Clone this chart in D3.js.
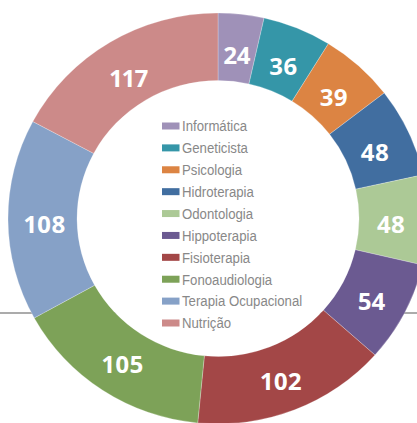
<!DOCTYPE html>
<html><head><meta charset="utf-8">
<script src="https://cdn.jsdelivr.net/npm/d3@7"></script>
<style>html,body{margin:0;padding:0;background:#fff;overflow:hidden}</style>
</head><body><svg id="c" width="417" height="423"></svg>
<script>
const categories = ["Informática","Geneticista","Psicologia","Hidroterapia","Odontologia","Hippoterapia","Fisioterapia","Fonoaudiologia","Terapia Ocupacional","Nutrição"];
const values = [24,36,39,48,48,54,102,105,108,117];
const colors = ["#9f91b8","#3596a8","#dc8443","#416ea0","#acc996","#6b5a91","#a34747","#7da258","#86a1c7","#cc8a89"];

const W = 417, H = 423;
const cx = 218, cy = 218.5, rOuter = 210, rInner = 141, yScale = 0.9786;
const svg = d3.select("#c");

svg.append("line").attr("x1", 0).attr("x2", W).attr("y1", 313).attr("y2", 313)
  .attr("stroke", "#ababab").attr("stroke-width", 2.2);

const pie = d3.pie().sort(null).value(d => d);
const arcs = pie(values);
const arc = d3.arc().innerRadius(rInner).outerRadius(rOuter);

const g = svg.append("g").attr("transform", `translate(${cx},${cy}) scale(1,${yScale})`);
g.append("circle").attr("r", rInner).attr("fill", "#fff");
g.selectAll("path").data(arcs).join("path")
  .attr("d", arc)
  .attr("fill", (d, i) => colors[i])
  .attr("stroke", "#fff").attr("stroke-width", 0.5).attr("stroke-opacity", 0.5);

const labelArc = d3.arc().innerRadius(173).outerRadius(173);
svg.selectAll("text.val").data(arcs).join("text")
  .attr("class", "val")
  .attr("x", d => cx + labelArc.centroid(d)[0])
  .attr("y", d => cy + labelArc.centroid(d)[1] * yScale + 4)
  .attr("text-anchor", "middle")
  .attr("dominant-baseline", "central")
  .attr("fill", "#fff")
  .style("font-family", "'Noto Sans', 'Open Sans', sans-serif")
  .style("font-weight", "bold")
  .style("font-size", "24px")
  .style("font-variant-numeric", "proportional-nums")
  .text(d => d.data);

const ly = d3.scalePoint().domain(categories).range([126, 323]);
const leg = svg.append("g");
const rows = leg.selectAll("g").data(categories).join("g")
  .attr("transform", d => `translate(0,${ly(d)})`);
rows.append("rect").attr("x", 162).attr("y", -3.5).attr("width", 17.5).attr("height", 7)
  .attr("fill", (d, i) => colors[i]);
rows.append("text")
  .attr("transform", "translate(182,0) scale(0.88,1)")
  .attr("x", 0).attr("y", 0)
  .attr("dominant-baseline", "central")
  .attr("fill", "#888")
  .style("font-family", "'Liberation Sans', Arial, sans-serif")
  .style("font-size", "15px")
  .text(d => d);
</script></body></html>
